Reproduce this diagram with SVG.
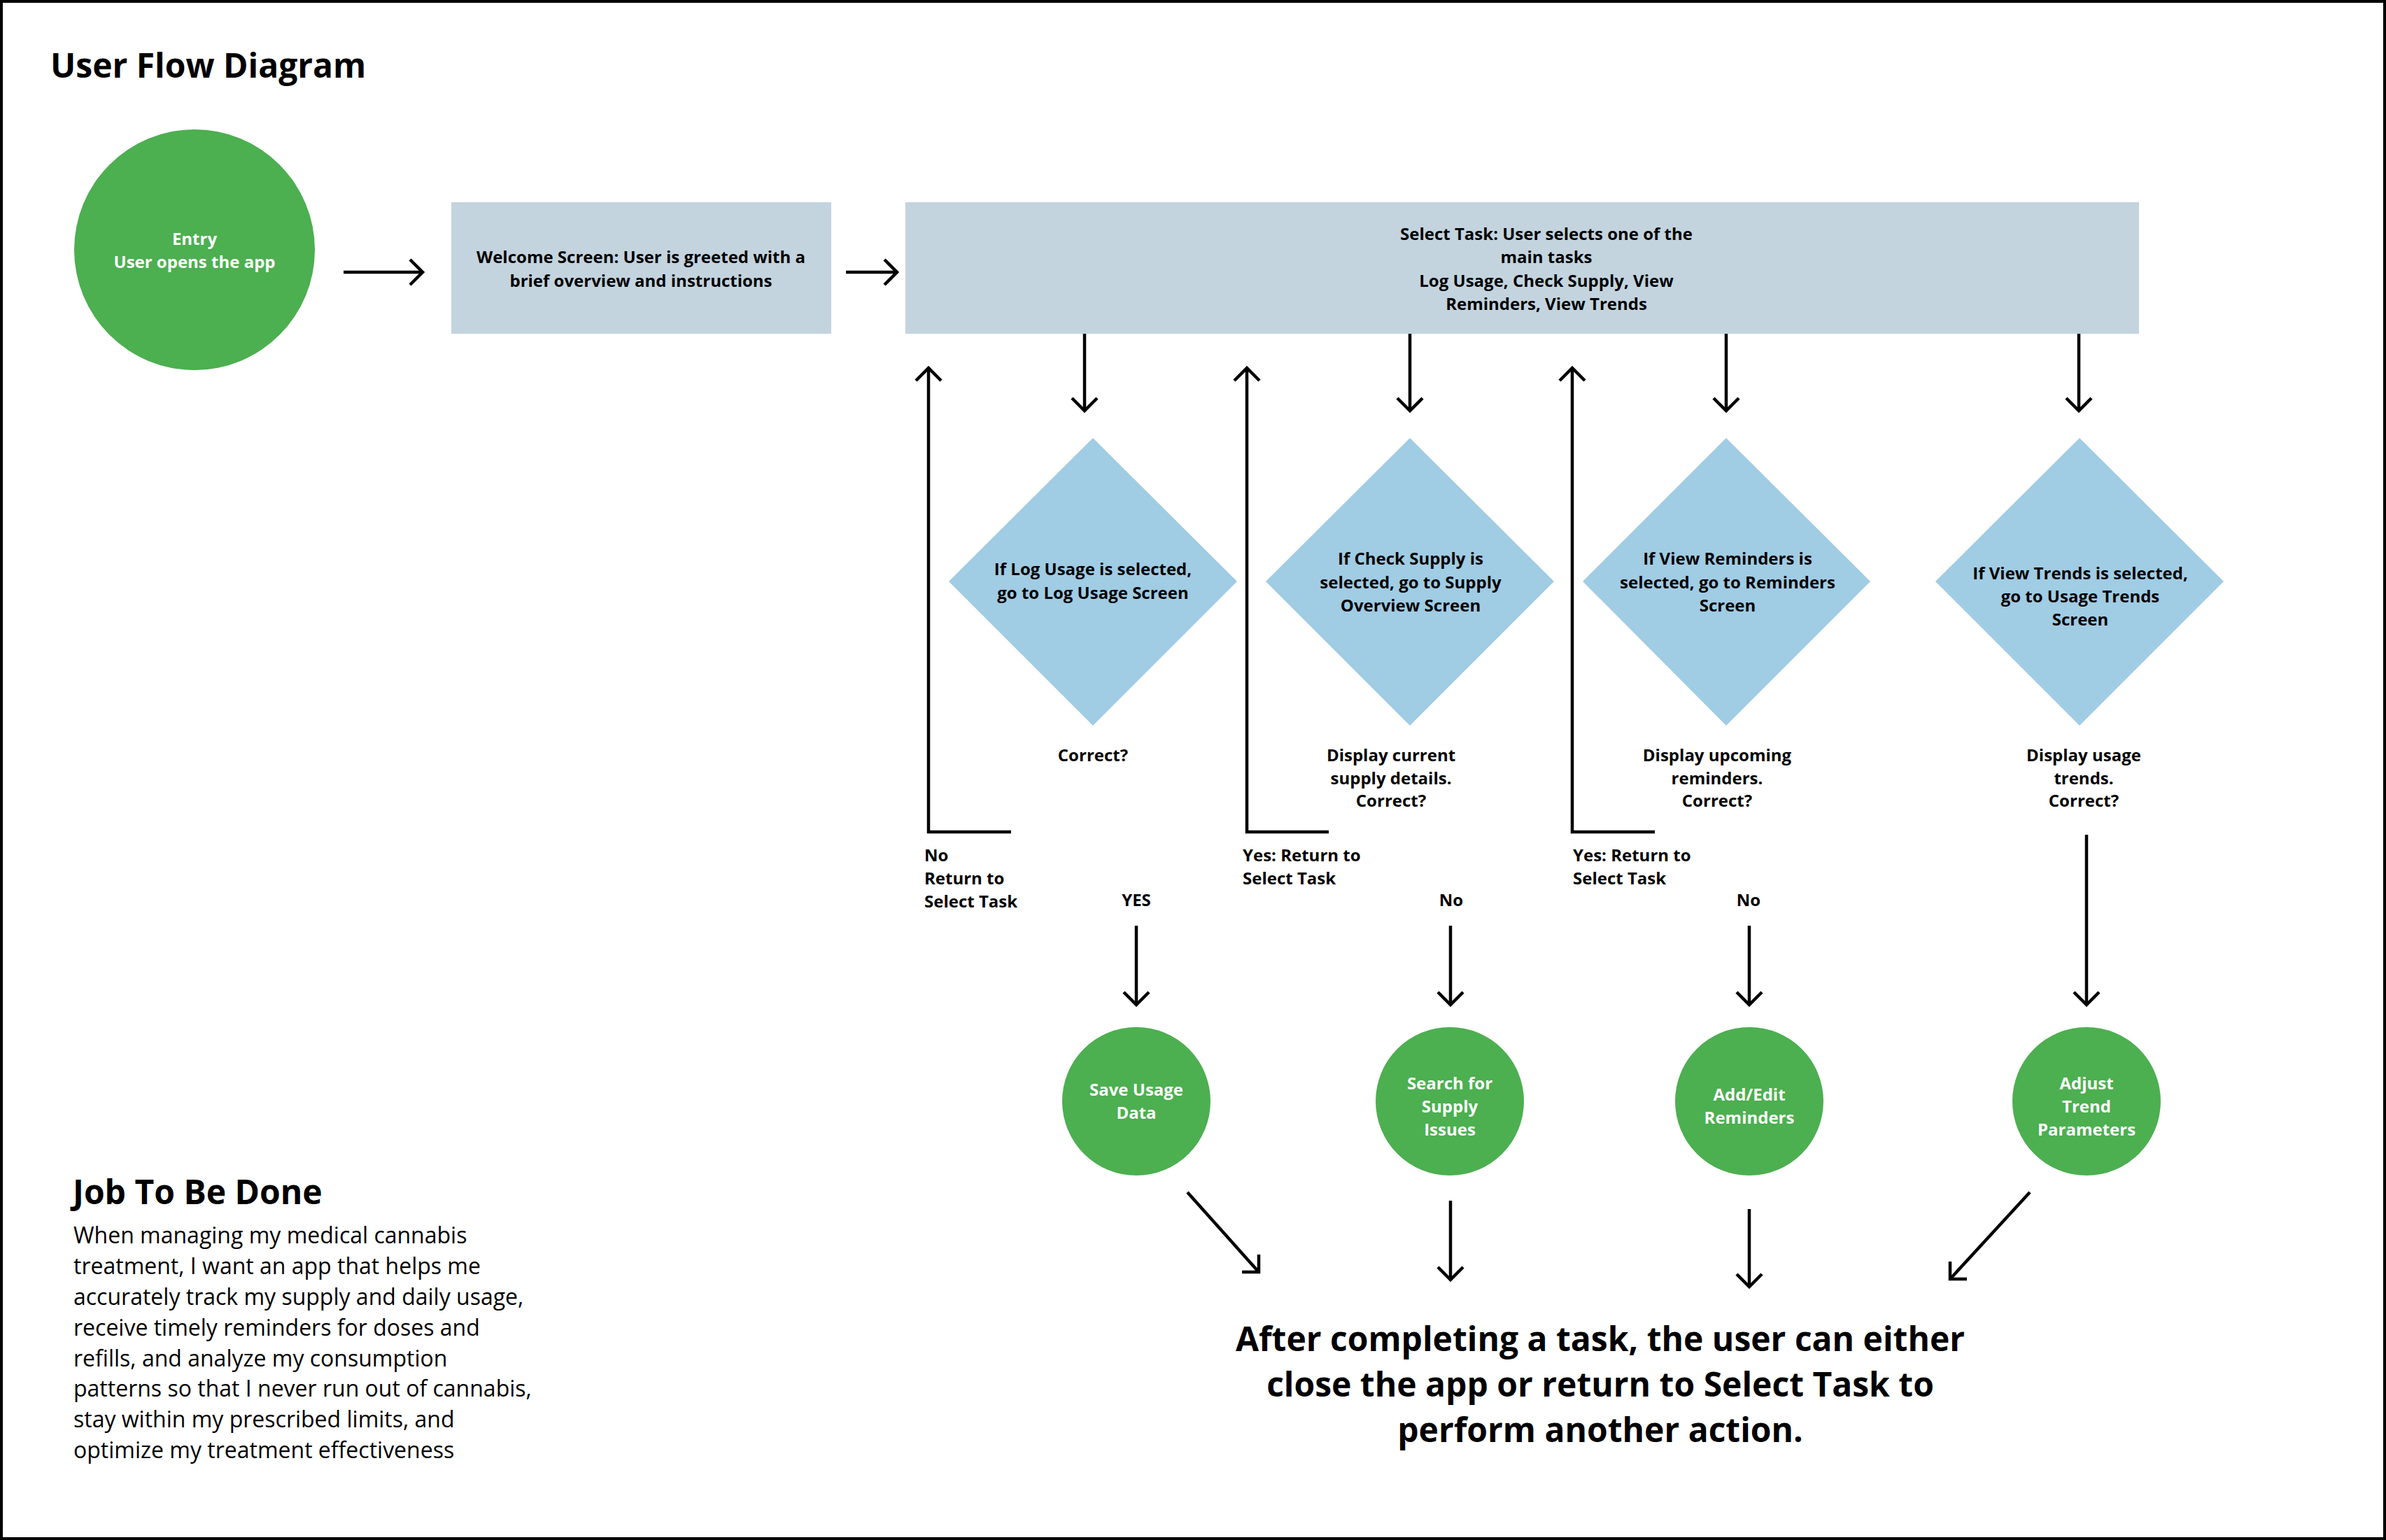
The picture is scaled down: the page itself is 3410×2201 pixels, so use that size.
<svg xmlns="http://www.w3.org/2000/svg" width="3410" height="2201" viewBox="0 0 3410 2201">
<defs>
<style>
text{font-family:"Open Sans","Liberation Sans",sans-serif;font-weight:700;font-size:24px;fill:#000}
.w{fill:#fff}
.c{text-anchor:middle}
.title{font-size:48px}
.body{font-size:32px;font-weight:400}
.big{font-size:48px;text-anchor:middle}
.green{fill:#4caf50}
.box{fill:#c3d4df}
.dia{fill:#a0cce4}
.ln{fill:none;stroke:#000;stroke-width:4.5;marker-end:url(#ah)}
.hd{fill:none;stroke:#000;stroke-width:4.5}
</style>
<marker id="ah" markerUnits="userSpaceOnUse" viewBox="-24 -24 30 48" markerWidth="30" markerHeight="48" refX="0" refY="0" orient="auto">
<path d="M-18,-18 L0,0 L-18,18" fill="none" stroke="#000" stroke-width="4.5"/>
</marker>
</defs>
<rect x="2" y="2" width="3406" height="2197" fill="#fff" stroke="#000" stroke-width="4"/>
<text id="title" class="title" x="72" y="111">User Flow Diagram</text>

<g id="entry">
<circle class="green" cx="278" cy="357" r="172"/>
<text class="w c" x="278" y="350">Entry</text>
<text class="w c" x="278" y="383">User opens the app</text>
</g>
<g id="welcome">
<rect class="box" x="645" y="289" width="543" height="188"/>
<text class="c" x="916" y="376">Welcome Screen: User is greeted with a</text>
<text class="c" x="916" y="410">brief overview and instructions</text>
</g>
<g id="select-task">
<rect class="box" x="1294" y="289" width="1763" height="188"/>
<text class="c" x="2210" y="343">Select Task: User selects one of the</text>
<text class="c" x="2210" y="376">main tasks</text>
<text class="c" x="2210" y="410">Log Usage, Check Supply, View</text>
<text class="c" x="2210" y="443">Reminders, View Trends</text>
</g>

<g id="d-log">
<polygon class="dia" points="1562,626 1768,831 1562,1037 1356,831"/>
<text class="c" x="1562" y="822">If Log Usage is selected,</text>
<text class="c" x="1562" y="856">go to Log Usage Screen</text>
</g>
<g id="d-supply">
<polygon class="dia" points="2015,626 2221,831 2015,1037 1809,831"/>
<text class="c" x="2016" y="807">If Check Supply is</text>
<text class="c" x="2016" y="841">selected, go to Supply</text>
<text class="c" x="2016" y="874">Overview Screen</text>
</g>
<g id="d-reminders">
<polygon class="dia" points="2467,626 2673,831 2467,1037 2262,831"/>
<text class="c" x="2469" y="807">If View Reminders is</text>
<text class="c" x="2469" y="841">selected, go to Reminders</text>
<text class="c" x="2469" y="874">Screen</text>
</g>
<g id="d-trends">
<polygon class="dia" points="2972,626 3178,831 2972,1037 2766,831"/>
<text class="c" x="2973" y="828">If View Trends is selected,</text>
<text class="c" x="2973" y="861">go to Usage Trends</text>
<text class="c" x="2973" y="894">Screen</text>
</g>

<g id="q-log"><text class="c" x="1562" y="1088">Correct?</text></g>
<g id="q-supply">
<text class="c" x="1988" y="1088">Display current</text>
<text class="c" x="1988" y="1121">supply details.</text>
<text class="c" x="1988" y="1153">Correct?</text>
</g>
<g id="q-reminders">
<text class="c" x="2454" y="1088">Display upcoming</text>
<text class="c" x="2454" y="1121">reminders.</text>
<text class="c" x="2454" y="1153">Correct?</text>
</g>
<g id="q-trends">
<text class="c" x="2978" y="1088">Display usage</text>
<text class="c" x="2978" y="1121">trends.</text>
<text class="c" x="2978" y="1153">Correct?</text>
</g>

<g id="labels">
<text x="1321" y="1231">No</text>
<text x="1321" y="1264">Return to</text>
<text x="1321" y="1297">Select Task</text>
<text class="c" x="1624" y="1295">YES</text>
<text x="1776" y="1231">Yes: Return to</text>
<text x="1776" y="1264">Select Task</text>
<text class="c" x="2074" y="1295">No</text>
<text x="2248" y="1231">Yes: Return to</text>
<text x="2248" y="1264">Select Task</text>
<text class="c" x="2499" y="1295">No</text>
</g>

<g id="save-usage">
<circle class="green" cx="1624" cy="1574" r="106"/>
<text class="w c" x="1624" y="1566">Save Usage</text>
<text class="w c" x="1624" y="1599">Data</text>
</g>
<g id="search-supply">
<circle class="green" cx="2072" cy="1574" r="106"/>
<text class="w c" x="2072" y="1557">Search for</text>
<text class="w c" x="2072" y="1590">Supply</text>
<text class="w c" x="2072" y="1623">Issues</text>
</g>
<g id="edit-reminders">
<circle class="green" cx="2500" cy="1574" r="106"/>
<text class="w c" x="2500" y="1573">Add/Edit</text>
<text class="w c" x="2500" y="1606">Reminders</text>
</g>
<g id="adjust-trend">
<circle class="green" cx="2982" cy="1574" r="106"/>
<text class="w c" x="2982" y="1557">Adjust</text>
<text class="w c" x="2982" y="1590">Trend</text>
<text class="w c" x="2982" y="1623">Parameters</text>
</g>

<g id="connectors">
<path class="ln" d="M491,389 H604"/>
<path class="ln" d="M1209,389 H1282"/>
<path class="ln" d="M1550,477 V587"/>
<path class="ln" d="M2015,477 V587"/>
<path class="ln" d="M2467,477 V587"/>
<path class="ln" d="M2971,477 V587"/>
<path class="ln" d="M1445,1189 H1327 V526"/>
<path class="ln" d="M1899,1189 H1782 V526"/>
<path class="ln" d="M2365,1189 H2247 V526"/>
<path class="ln" d="M1624,1323 V1436"/>
<path class="ln" d="M2073,1323 V1436"/>
<path class="ln" d="M2500,1323 V1436"/>
<path class="ln" d="M2982,1193 V1436"/>
<path class="hd" d="M1697,1704 L1799,1818"/>
<path class="hd" d="M1799,1793 V1818 H1775"/>
<path class="ln" d="M2073,1716 V1829"/>
<path class="ln" d="M2500,1728 V1839"/>
<path class="hd" d="M2901,1704 L2787,1828"/>
<path class="hd" d="M2787,1803 V1828 H2811"/>
</g>

<g id="summary">
<text class="big" x="2287" y="1931">After completing a task, the user can either</text>
<text class="big" x="2287" y="1996">close the app or return to Select Task to</text>
<text class="big" x="2287" y="2061">perform another action.</text>
</g>

<g id="jtbd">
<text class="title" x="104" y="1721">Job To Be Done</text>
<text class="body" x="105" y="1777">When managing my medical cannabis</text>
<text class="body" x="105" y="1821">treatment, I want an app that helps me</text>
<text class="body" x="105" y="1865">accurately track my supply and daily usage,</text>
<text class="body" x="105" y="1909">receive timely reminders for doses and</text>
<text class="body" x="105" y="1953">refills, and analyze my consumption</text>
<text class="body" x="105" y="1996">patterns so that I never run out of cannabis,</text>
<text class="body" x="105" y="2040">stay within my prescribed limits, and</text>
<text class="body" x="105" y="2084">optimize my treatment effectiveness</text>
</g>
</svg>
